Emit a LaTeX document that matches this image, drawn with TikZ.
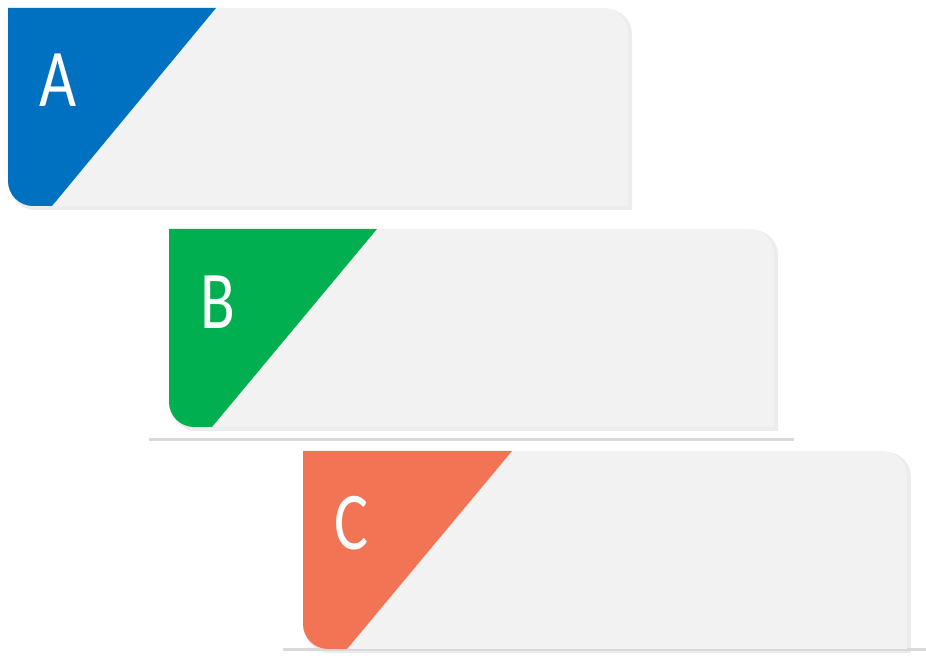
\documentclass[tikz,border=0pt]{standalone}
\usepackage{fontspec}
\setmainfont{Carlito}
\newfontfamily\cardfont[FakeStretch=0.78]{Carlito}
\usepackage{tikz}
\definecolor{cardbg}{HTML}{F2F2F2}
\definecolor{blueA}{HTML}{0070C0}
\definecolor{greenB}{HTML}{00B050}
\definecolor{orangeC}{HTML}{F37355}
\definecolor{shadegray}{HTML}{D9D9D9}
\newcommand{\cardpath}[4]{(#1,#2) -- ({#3-25},#2) arc[start angle=90,end angle=0,radius=25] -- (#3,#4) -- ({#1+25},#4) arc[start angle=270,end angle=180,radius=25] -- cycle}
\begin{document}
\begin{tikzpicture}[x=1pt, y=1pt,
  letter/.style={text=white, font=\cardfont\fontsize{82}{82}\selectfont, inner sep=0pt},
  shadow/.style={fill=shadegray, opacity=0.5},
  base/.style={fill=cardbg},
  rule/.style={draw=shadegray, line width=3pt}]
  \useasboundingbox (0,0) rectangle (926,663);

  % card A
  \fill[shadow] \cardpath{10}{654}{632}{453};
  \fill[base] \cardpath{8}{655}{628}{457};
  \fill[blueA] (8,655) -- (216,655) -- (52,457) -- (33,457) arc[start angle=270,end angle=180,radius=25] -- cycle;
  \node[letter] (A) at (58,583) {A};

  % card B
  \draw[rule] (149,223) -- (794,223);
  \fill[shadow] \cardpath{171}{433}{778}{232};
  \fill[base] \cardpath{169}{434}{774}{236};
  \fill[greenB] (169,434) -- (377,434) -- (212,236) -- (194,236) arc[start angle=270,end angle=180,radius=25] -- cycle;
  \node[letter] (B) at (218,361) {B};

  % card C
  \draw[rule] (283,13) -- (926,13);
  \fill[shadow] \cardpath{305}{211}{911}{10};
  \fill[base] \cardpath{303}{212}{907}{14};
  \fill[orangeC] (303,212) -- (512,212) -- (347,14) -- (328,14) arc[start angle=270,end angle=180,radius=25] -- cycle;
  \node[letter] (C) at (352,140) {C};
\end{tikzpicture}
\end{document}
